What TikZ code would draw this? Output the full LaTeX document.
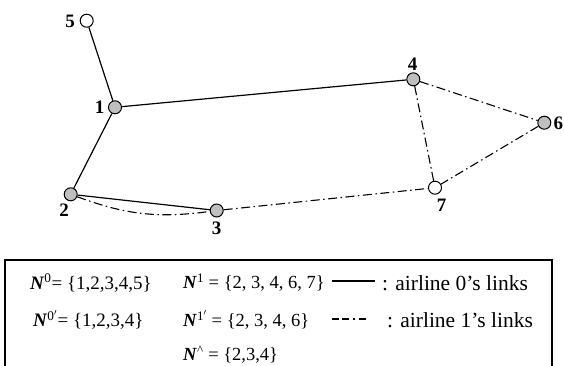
\documentclass[tikz,border=0pt]{standalone}
\usepackage{fontspec}
\setmainfont{Liberation Serif}
\begin{document}
\begin{tikzpicture}[x=1pt,y=-1pt,
  vtx/.style={circle,draw=black,line width=1pt,minimum size=13pt,inner sep=0pt,fill=black!25},
  wvtx/.style={vtx,fill=white},
  lbl/.style={inner sep=0pt,font=\fontsize{19}{22}\selectfont\bfseries},
  solidlink/.style={line width=1.2pt},
  dashlink/.style={line width=1.1pt,dash pattern=on 9pt off 3.5pt on 1.5pt off 3.5pt},
  legtxt/.style={inner sep=0pt,anchor=west,font=\fontsize{19}{22}\selectfont},
  legtxtm/.style={inner sep=0pt,anchor=west,font=\fontsize{18.5}{22}\selectfont},
  legtxtb/.style={inner sep=0pt,anchor=west,font=\fontsize{21.5}{24}\selectfont}]
\useasboundingbox (0,0) rectangle (564,365);
\clip (0,0) rectangle (564,365);
% nodes
\node[wvtx] (n5) at (86.7,20.7) {};
\node[vtx] (n1) at (115,107.3) {};
\node[vtx] (n2) at (70.7,194.3) {};
\node[vtx] (n3) at (216.7,210.5) {};
\node[vtx] (n4) at (413.3,79.3) {};
\node[vtx] (n6) at (544.3,122.7) {};
\node[wvtx] (n7) at (435,187.7) {};
% labels
\node[lbl] (l5) at (70,21) {5};
\node[lbl] (l1) at (99.5,107.5) {1};
\node[lbl] (l2) at (64,210.5) {2};
\node[lbl] (l3) at (216.7,228) {3};
\node[lbl] (l4) at (412.7,64) {4};
\node[lbl] (l6) at (558.3,123) {6};
\node[lbl] (l7) at (441.7,205.5) {7};
% airline 0 links
\draw[solidlink] (n5) -- (n1);
\draw[solidlink] (n1) -- (n4);
\draw[solidlink] (n1) -- (n2);
\draw[solidlink] (n2) -- (n3);
% airline 1 links
\draw[dashlink] (n2) to[bend right=14] (n3);
\draw[dashlink] (n3) -- (n7);
\draw[dashlink] (n7) -- (n4);
\draw[dashlink] (n4) -- (n6);
\draw[dashlink] (n6) -- (n7);
% legend box
\draw[line width=1.3pt] (5,260) rectangle (552,380);
\node[legtxt] (a1) at (30,283) {\textbf{\textit{N}}\textsuperscript{0}= \{1,2,3,4,5\}};
\node[legtxt] (a2) at (33,320) {\textbf{\textit{N}}\textsuperscript{0$^\prime$}= \{1,2,3,4\}};
\node[legtxtm] (b1) at (183,283) {\textbf{\textit{N}}\textsuperscript{1} = \{2, 3, 4, 6, 7\}};
\node[legtxtm] (b2) at (183,320) {\textbf{\textit{N}}\textsuperscript{1$^\prime$} = \{2, 3, 4, 6\}};
\node[legtxtm] (b3) at (183,355) {\textbf{\textit{N}}\textsuperscript{\textasciicircum} = \{2,3,4\}};
\coordinate (s0a) at (332,281);
\coordinate (s0b) at (375,281);
\coordinate (s1a) at (332,319);
\coordinate (s1b) at (368,319);
\draw[line width=1.1pt] (s0a) -- (s0b);
\draw[line width=1.1pt,dash pattern=on 7pt off 3pt on 7pt off 4pt on 1.5pt off 4pt on 7pt off 20pt] (s1a) -- (s1b);
\node[legtxtb] (c1) at (382,283) {: airline 0’s links};
\node[legtxtb] (c2) at (387,320) {: airline 1’s links};
\end{tikzpicture}
\end{document}
